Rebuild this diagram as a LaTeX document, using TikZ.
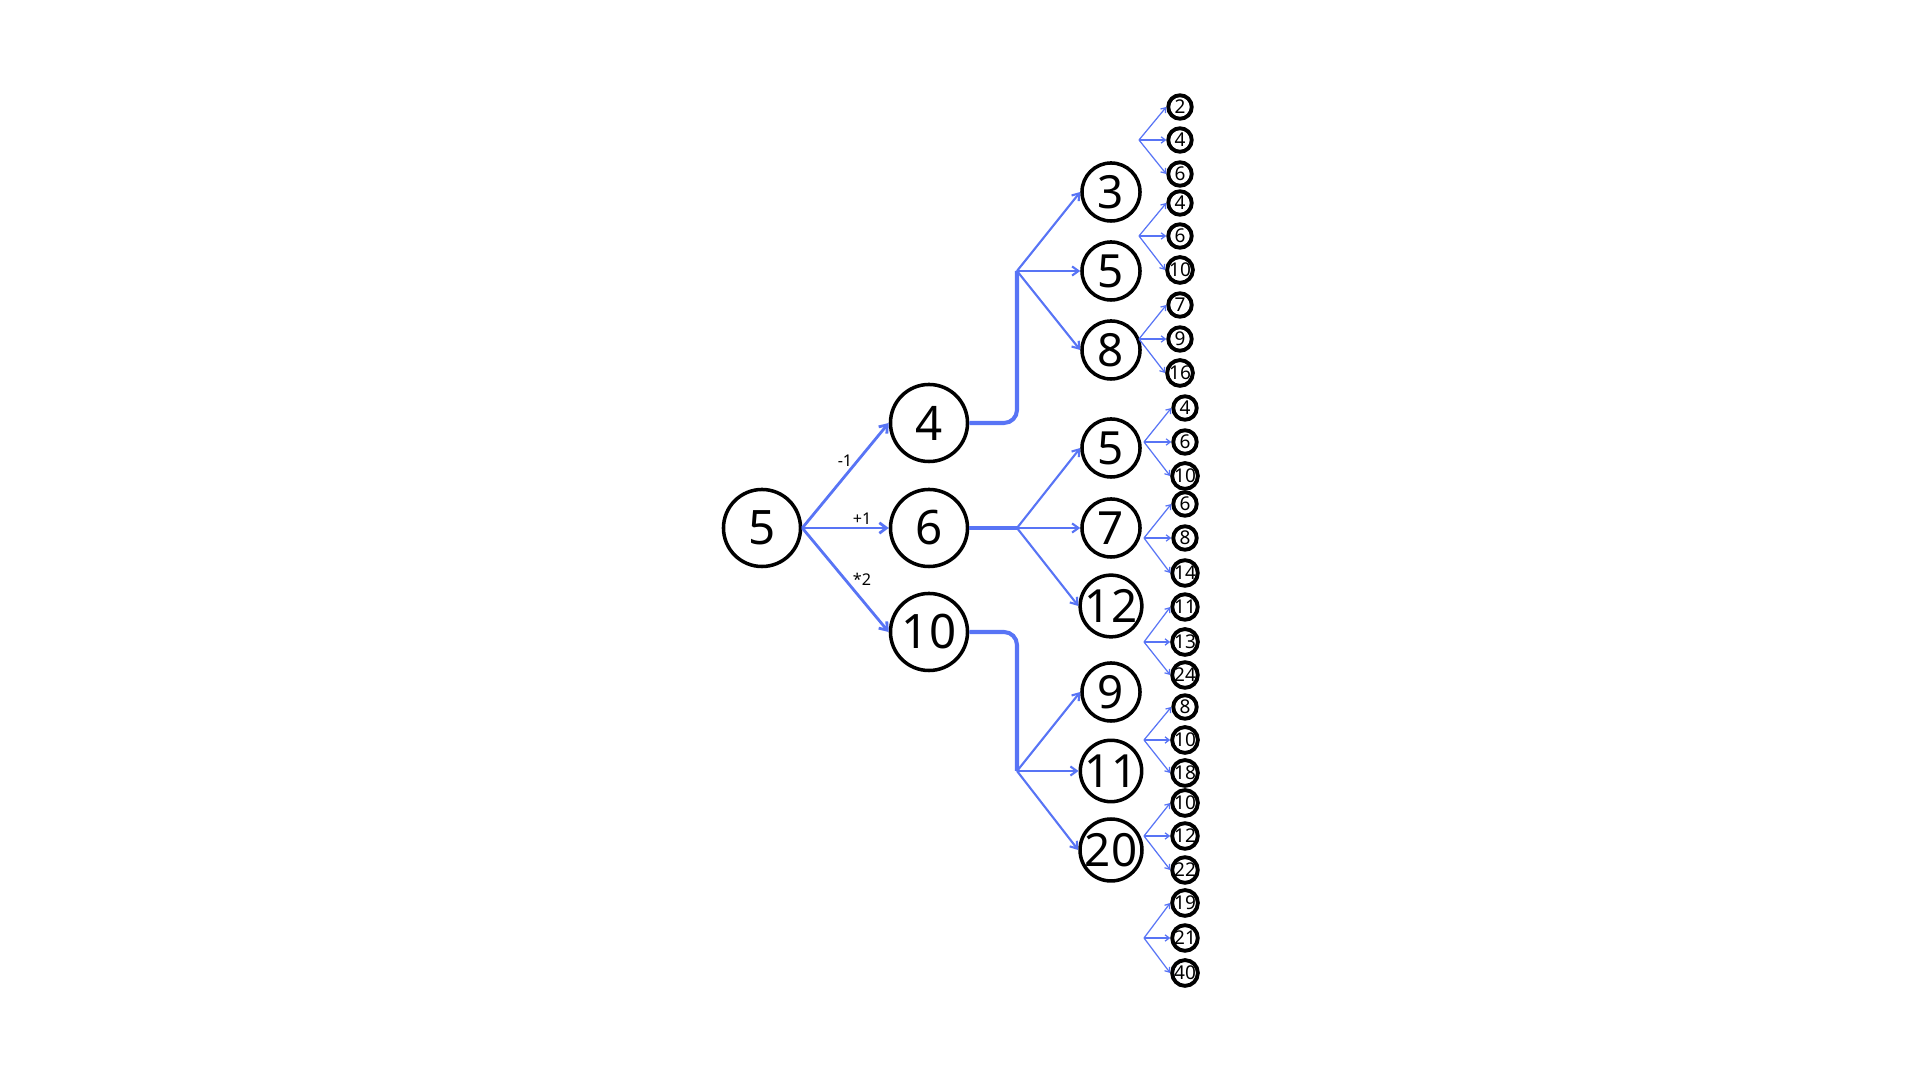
\documentclass[tikz,border=0pt]{standalone}
\usepackage{fontspec}
\setmainfont{Noto Sans}
\usetikzlibrary{arrows.meta}
\definecolor{edgeblue}{RGB}{88,116,245}
\tikzset{
  lvA/.style={circle, draw=black, line width=1pt, minimum size=0.77cm, inner sep=0pt, font=\fontsize{13.5}{14}\selectfont},
  lvB/.style={circle, draw=black, line width=1pt, minimum size=0.58cm, inner sep=0pt, font=\fontsize{13}{14}\selectfont},
  lvC/.style={circle, draw=black, line width=1.1pt, minimum size=0.235cm, inner sep=0pt, font=\fontsize{5.4}{5.6}\selectfont},
  opl/.style={font=\fontsize{4.6}{5}\selectfont, inner sep=0pt},
  arrA/.style={draw=edgeblue, line width=0.8pt, -{Straight Barb[length=2pt,width=3pt]}},
  trunk/.style={draw=edgeblue, line width=1.15pt, rounded corners=0.13cm},
  arrB/.style={draw=edgeblue, line width=0.6pt, -{Straight Barb[length=1.8pt,width=2.6pt]}},
  arrC/.style={draw=edgeblue, line width=0.35pt, -{Straight Barb[length=1.2pt,width=1.8pt]}},
}
\begin{document}
\begin{tikzpicture}[x=0.01cm,y=-0.01cm]
\useasboundingbox (0,0) rectangle (1920,1080);
% level 0 and 1
\node[lvA] (root) at (762,528) {5};
\node[lvA] (a4) at (929,423) {4};
\node[lvA] (a6) at (929,528) {6};
\node[lvA] (a10) at (929,632) {10};
\draw[arrA] (root.east) -- (a4.west);
\draw[arrA] (root.east) -- (a6.west);
\draw[arrA] (root.east) -- (a10.west);
\node[opl] (l1) at (845,461) {-1};
\node[opl] (l2) at (862,519) {+1};
\node[opl] (l3) at (862,579) {*2};
% level 2
\coordinate (b1) at (1017,271);
\coordinate (b2) at (1017,528);
\coordinate (b3) at (1017,771);
\node[lvB] (c1) at (1111,192) {3};
\node[lvB] (c2) at (1111,271) {5};
\node[lvB] (c3) at (1111,350) {8};
\node[lvB] (c4) at (1111,448) {5};
\node[lvB] (c5) at (1111,528) {7};
\node[lvB] (c6) at (1111,606) {12};
\node[lvB] (c7) at (1111,692) {9};
\node[lvB] (c8) at (1111,771) {11};
\node[lvB] (c9) at (1111,850) {20};
\draw[trunk] (a4.east) -| (b1);
\draw[trunk] (a6.east) -- (b2);
\draw[trunk] (a10.east) -| (b3);
\foreach \b/\cs in {b1/{c1,c2,c3}, b2/{c4,c5,c6}, b3/{c7,c8,c9}}{
  \foreach \c in \cs { \draw[arrB] (\b) -- (\c.west); }
}
% level 3
\foreach \g/\bx/\cx/\ya/\yb/\yc/\ta/\tb/\tc in {
  A/1139/1180/107/140/174/2/4/6,
  B/1139/1180/203/236/270/4/6/10,
  C/1139/1180/305/339/373/7/9/16,
  D/1144/1185/408/442/476/4/6/10,
  E/1144/1185/504/538/573/6/8/14,
  F/1144/1185/607/642/675/11/13/24,
  G/1144/1185/707/740/773/8/10/18,
  H/1144/1185/803/836/870/10/12/22,
  I/1144/1185/903/938/973/19/21/40}{
  \coordinate (k\g) at (\bx,\yb);
  \node[lvC] (d\g1) at (\cx,\ya) {\ta};
  \node[lvC] (d\g2) at (\cx,\yb) {\tb};
  \node[lvC] (d\g3) at (\cx,\yc) {\tc};
  \draw[arrC] (k\g) -- (d\g1.west);
  \draw[arrC] (k\g) -- (d\g2.west);
  \draw[arrC] (k\g) -- (d\g3.west);
}
\end{tikzpicture}
\end{document}
